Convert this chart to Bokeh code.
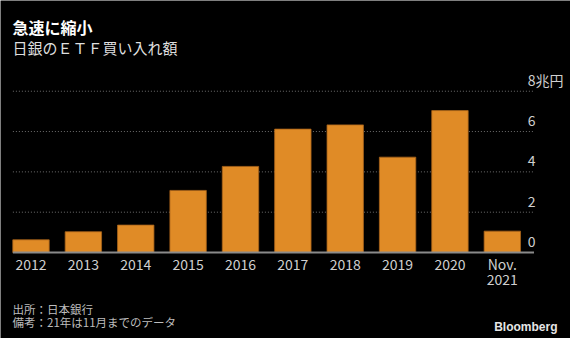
from bokeh.plotting import figure
from bokeh.models import Range1d
from bokeh.core.properties import value
from bokeh.embed import file_html
from bokeh.resources import INLINE

# ---- data ----
years = ["2012", "2013", "2014", "2015", "2016", "2017", "2018", "2019", "2020", "Nov.\n2021"]
purchases = [0.63, 1.03, 1.36, 3.08, 4.27, 6.12, 6.33, 4.73, 7.04, 1.06]  # 兆円
y_ticks = [0, 2, 4, 6, 8]
y_tick_labels = ["0", "2", "4", "6", "8兆円"]
title = "急速に縮小"
subtitle = "日銀のＥＴＦ買い入れ額"
notes = ["出所：日本銀行", "備考：21年は11月までのデータ"]
brand = "Bloomberg"

# ---- layout (pixel geometry of the frame) ----
W, H = 570, 338
X0, DX = 30.5, 52.37   # centre of first bar, spacing between bars (px)
Y0, DY = 252.0, 20.16  # baseline (px from top), px per unit

def xd(px):
    return (px - X0) / DX

def yd(py):
    return (Y0 - py) / DY

p = figure(width=W, height=H, output_backend="svg", toolbar_location=None,
           x_range=Range1d(xd(0), xd(W)), y_range=Range1d(yd(H), yd(0)),
           x_axis_location=None, y_axis_location=None,
           min_border=0, min_border_left=0, min_border_right=0,
           min_border_top=0, min_border_bottom=0)
p.background_fill_color = "#000000"
p.border_fill_color = "#000000"
p.outline_line_color = None
p.xgrid.visible = False
p.ygrid.visible = False

idx = list(range(len(years)))
num_font = value("'Liberation Sans Narrow', 'Noto Sans CJK JP', sans-serif")
cjk_font = value("'Noto Sans CJK JP', sans-serif")

# gridlines (dotted)
gx0, gx1 = xd(12.4), xd(533.5)
grid_vals = [v for v in y_ticks if v != 0]
p.segment(x0=[gx0] * len(grid_vals), x1=[gx1] * len(grid_vals), y0=grid_vals, y1=grid_vals,
          line_color="#6e6e6e", line_width=1, line_dash="1 2")

# bars
p.vbar(x=idx, top=purchases, bottom=0, width=36.4 / DX,
       fill_color="#e08b26", line_color="#a8631a", line_width=0.8)

# baseline
p.segment(x0=[gx0], x1=[gx1], y0=[0], y1=[0], line_color="#8a8a8a", line_width=2)

# y tick labels (above gridlines, right side)
p.text(x=[idx[-1]] * len(y_ticks), y=y_ticks, text=y_tick_labels,
       x_offset=25.5, y_offset=-11, text_align="left", text_baseline="middle",
       text_color="#cfcfcf", text_font_size="14px", text_font=num_font)

# x tick labels (first and second lines drawn separately)
first = [t.split("\n")[0] for t in years]
second_x = [i for i, t in zip(idx, years) if "\n" in t]
second = [t.split("\n")[1] for t in years if "\n" in t]
p.text(x=idx, y=[0] * len(idx), text=first, y_offset=11.5,
       text_align="center", text_baseline="middle",
       text_color="#cfcfcf", text_font_size="14px", text_font=num_font)
p.text(x=second_x, y=[0] * len(second_x), text=second, y_offset=27,
       text_align="center", text_baseline="middle",
       text_color="#cfcfcf", text_font_size="14px", text_font=num_font)

# titles
p.text(x=[xd(12)], y=[yd(26.5)], text=[title], text_align="left", text_baseline="middle",
       text_color="#ffffff", text_font_size="16px", text_font_style="bold", text_font=cjk_font)
p.text(x=[xd(12)], y=[yd(46.5)], text=[subtitle], text_align="left", text_baseline="middle",
       text_color="#dedede", text_font_size="15px", text_font=cjk_font)

# footnotes
p.text(x=[xd(12), xd(12)], y=[yd(308), yd(321)], text=notes, text_align="left",
       text_baseline="middle", text_color="#bdbdbd", text_font_size="11.5px", text_font=cjk_font)

# brand
p.text(x=[xd(557)], y=[yd(326.5)], text=[brand], text_align="right", text_baseline="middle",
       text_color="#e6e6e6", text_font_size="12px", text_font_style="bold",
       text_font=value("'Liberation Sans', Arial, sans-serif"))

open("out.html", "w").write(file_html(p, INLINE))
